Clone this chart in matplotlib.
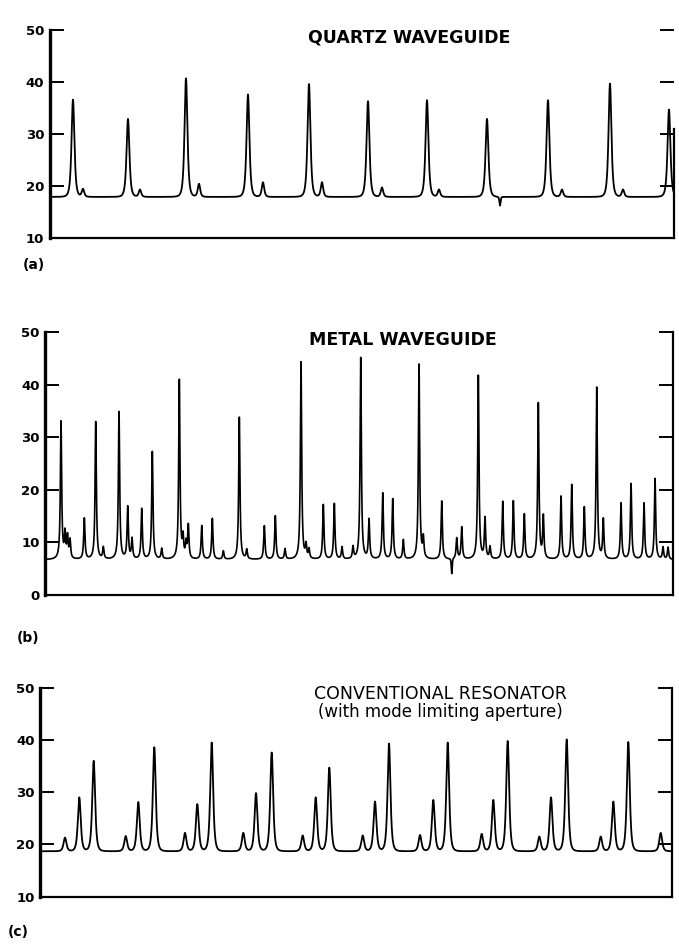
import numpy as np
import matplotlib.pyplot as plt

plt.rcParams['font.family'] = ['DejaVu Sans']

# (a) quartz waveguide: baseline, main peaks, small side peaks, one dip
quartz_base = 17.9
quartz_pos = [23, 78, 136, 198, 259, 318, 377, 437, 498, 560, 619]
quartz_top = [36.6, 32.9, 40.7, 37.6, 39.6, 36.3, 36.5, 32.9, 36.5, 39.7, 34.7]
quartz_side_pos = [33, 90, 149, 213, 272, 332, 389, 512, 573]
quartz_side_top = [19.4, 19.3, 20.4, 20.7, 20.7, 19.7, 19.3, 19.3, 19.3]
quartz_dip_pos = [450]
quartz_dip_top = [16.2]

# (b) metal waveguide
metal_base = 6.7
metal_pos = [16, 20, 22.5, 25, 39.3, 50.7, 58.3, 74, 82.7, 87, 96.7, 107.3, 116.7,
             134.3, 138, 141, 143.3, 156.7, 167.3, 178.3, 194.3, 201.7, 219.3, 230.3,
             240, 256, 261, 264, 278.3, 289.3, 297, 308, 315.7, 324, 337.7, 347.7,
             358.3, 374, 378.3, 396.7, 411.7, 416.7, 433.3, 440, 445, 457.7, 468.3,
             479.3, 493.3, 498.3, 516, 526.7, 539.3, 551.7, 558.3, 576, 586, 599,
             610, 618, 623]
metal_top = [32.9, 11.4, 10.8, 10.2, 14.5, 32.9, 8.9, 34.8, 16.6, 10.5, 16.3, 27.2, 8.7,
             40.8, 10.5, 9.5, 13.0, 13.1, 14.5, 8.3, 33.8, 8.5, 13.1, 15.0,
             8.7, 44.3, 9.2, 8.5, 17.1, 17.3, 9.0, 9.0, 45.1, 14.2, 19.3, 18.2,
             10.4, 43.8, 10.5, 17.8, 10.7, 12.8, 41.7, 14.4, 9.0, 17.7, 17.8,
             15.3, 36.4, 14.7, 18.7, 20.9, 16.6, 39.4, 14.2, 17.4, 21.1, 17.4,
             22.1, 9.0, 9.0]
metal_dip_pos = [406.7]
metal_dip_top = [3.8]

# (c) conventional resonator
conv_base = 18.7
conv_pos = [25, 39.3, 53.7, 85.7, 98.3, 114.3, 145, 157.3, 171.7, 203.3, 216, 231.7,
            262.7, 275.7, 289.3, 322.7, 335, 349, 380, 393.3, 407.7, 441.7, 453.3,
            467.7, 499.3, 511, 526.7, 560.7, 573.3, 588.3, 620.7]
conv_top = [21.3, 29.0, 36.0, 21.6, 28.1, 38.6, 22.2, 27.7, 39.5, 22.2, 29.8, 37.6,
            21.7, 29.0, 34.7, 21.7, 28.2, 39.3, 21.8, 28.5, 39.5, 22.0, 28.5,
            39.8, 21.5, 29.0, 40.1, 21.5, 28.2, 39.6, 22.2]


def peaks(x, base, pos, top, g, power):
    # sum of peak shapes above (or below) the baseline, without the baseline
    y = np.zeros_like(x)
    for p, t in zip(pos, top):
        y += (t - base) / (1 + ((x - p) / g) ** 2) ** power
    return y


def style(ax, ylo, xmax, right_lo=None):
    ax.set_xlim(0, xmax)
    ax.set_ylim(ylo, 50)
    ax.spines['top'].set_visible(False)
    ax.spines['left'].set_linewidth(2.4)
    ax.spines['bottom'].set_linewidth(1.6)
    ax.spines['right'].set_linewidth(1.6)
    if right_lo is not None:
        ax.spines['right'].set_bounds(ylo, right_lo)
    ax.set_xticks([])
    ax.set_yticks(range(ylo, 51, 10))
    ax.tick_params(axis='y', direction='in', length=10, width=1.4, pad=4,
                   right=True, labelsize=9.5)
    for lab in ax.get_yticklabels():
        lab.set_fontweight('bold')


fig = plt.figure(figsize=(6.79, 9.44), dpi=100)

# (a)
ax_a = fig.add_axes([0.0736, 0.7479, 0.9190, 0.2203])
xa = np.linspace(0, 624, 8000)
ya = (quartz_base
      + peaks(xa, quartz_base, quartz_pos, quartz_top, 2.6, 2)
      + peaks(xa, quartz_base, quartz_side_pos, quartz_side_top, 2.2, 2)
      + peaks(xa, quartz_base, quartz_dip_pos, quartz_dip_top, 1.0, 2))
ax_a.plot(xa, ya, color='black', lw=1.3)
style(ax_a, 10, 624, right_lo=31)
ax_a.text(0.575, 0.966, 'QUARTZ WAVEGUIDE', transform=ax_a.transAxes,
          ha='center', va='center', fontsize=12.5, fontweight='bold')

# (b)
ax_b = fig.add_axes([0.0663, 0.3697, 0.9249, 0.2783])
xb = np.linspace(0, 628, 14000)
yb = (metal_base
      + peaks(xb, metal_base, metal_pos, metal_top, 0.75, 1)
      + peaks(xb, metal_base, metal_dip_pos, metal_dip_top, 0.8, 2))
ax_b.plot(xb, yb, color='black', lw=1.2)
style(ax_b, 0, 628)
ax_b.text(0.570, 0.971, 'METAL WAVEGUIDE', transform=ax_b.transAxes,
          ha='center', va='center', fontsize=12.5, fontweight='bold')

# (c)
ax_c = fig.add_axes([0.0589, 0.0501, 0.9308, 0.2214])
xc = np.linspace(0, 632, 8000)
yc = conv_base + peaks(xc, conv_base, conv_pos, conv_top, 2.6, 2)
ax_c.plot(xc, yc, color='black', lw=1.3)
style(ax_c, 10, 632)
ax_c.text(0.633, 0.970, 'CONVENTIONAL RESONATOR', transform=ax_c.transAxes,
          ha='center', va='center', fontsize=12.5)
ax_c.text(0.633, 0.885, '(with mode limiting aperture)', transform=ax_c.transAxes,
          ha='center', va='center', fontsize=12)

fig.text(23 / 679, 1 - 265 / 944, '(a)', fontsize=10, fontweight='bold', va='center')
fig.text(17 / 679, 1 - 638 / 944, '(b)', fontsize=10, fontweight='bold', va='center')
fig.text(8 / 679, 1 - 932 / 944, '(c)', fontsize=10, fontweight='bold', va='center')

fig.savefig('out.png', dpi=100)
